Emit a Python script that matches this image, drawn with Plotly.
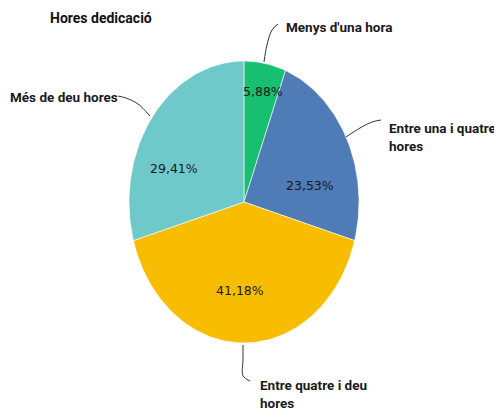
import numpy as np
import plotly.graph_objects as go

title = "Hores dedicació"
categories = ["Menys d'una hora", "Entre una i quatre<br>hores", "Entre quatre i deu<br>hores", "Més de deu hores"]
values = [5.88, 23.53, 41.18, 29.41]
colors = ["#17c070", "#4f7bb7", "#f8bd00", "#6fc9cb"]

# layout/style (page-pixel-like coordinate space; page body has 8px margin)
W, H = 502, 417
OFF = 8
cx, cy, rx, ry = 244, 202, 115, 141
text_r = [0.80, 0.59, 0.625, 0.655]
text_da = [1.2, 14.8, 3.0, -15.5]  # degrees offset from slice mid-angle
label_pos = [(284, 27), (387, 137), (258, 394), (8, 97)]
leaders = [
    [(264, 62), (267, 45), (272, 30), (278, 24)],
    [(346, 137), (360, 128), (372, 122), (381, 120)],
    [(243, 345), (243, 360), (243, 376), (250, 381)],
    [(150, 116), (138, 104), (126, 98), (118, 96)],
]

fig = go.Figure()
total = sum(values)
start = 0.0
for i, v in enumerate(values):
    a0 = start / total * 2 * np.pi
    a1 = (start + v) / total * 2 * np.pi
    t = np.linspace(a0, a1, 80)
    xs = np.concatenate([[cx], cx + rx * np.sin(t), [cx]])
    ys = np.concatenate([[cy], cy - ry * np.cos(t), [cy]])
    fig.add_trace(go.Scatter(x=xs, y=ys, mode="lines", fill="toself",
                             fillcolor=colors[i], line=dict(color="white", width=0.6),
                             hoverinfo="skip", showlegend=False))
    am = (a0 + a1) / 2 + np.radians(text_da[i])
    fig.add_annotation(x=cx + text_r[i] * rx * np.sin(am), y=cy - text_r[i] * ry * np.cos(am),
                       text=f"{v:.2f}%".replace(".", ","), showarrow=False,
                       font=dict(family="DejaVu Sans", size=12.5, color="#1a1a1a"))
    start += v

for i, pts in enumerate(leaders):
    fig.add_trace(go.Scatter(x=[p[0] for p in pts], y=[p[1] for p in pts], mode="lines",
                             line=dict(color="#333333", width=1, shape="spline"),
                             hoverinfo="skip", showlegend=False))
    lx, ly = label_pos[i]
    fig.add_annotation(x=lx, y=ly, text=f"<b>{categories[i]}</b>", showarrow=False,
                       xanchor="left", yanchor="middle", align="left",
                       font=dict(family="Roboto", size=13.5, color="#1a1a1a"))

fig.add_annotation(x=48, y=18, text=f"<b>{title}</b>", showarrow=False, xanchor="left",
                   yanchor="middle", font=dict(family="Roboto", size=14, color="#111111"))

fig.update_xaxes(range=[OFF, W + OFF], visible=False, fixedrange=True)
fig.update_yaxes(range=[H + OFF, OFF], visible=False, fixedrange=True)
fig.update_layout(width=W, height=H, margin=dict(l=0, r=0, t=0, b=0),
                  plot_bgcolor="white", paper_bgcolor="white")
fig.write_html("out.html")
